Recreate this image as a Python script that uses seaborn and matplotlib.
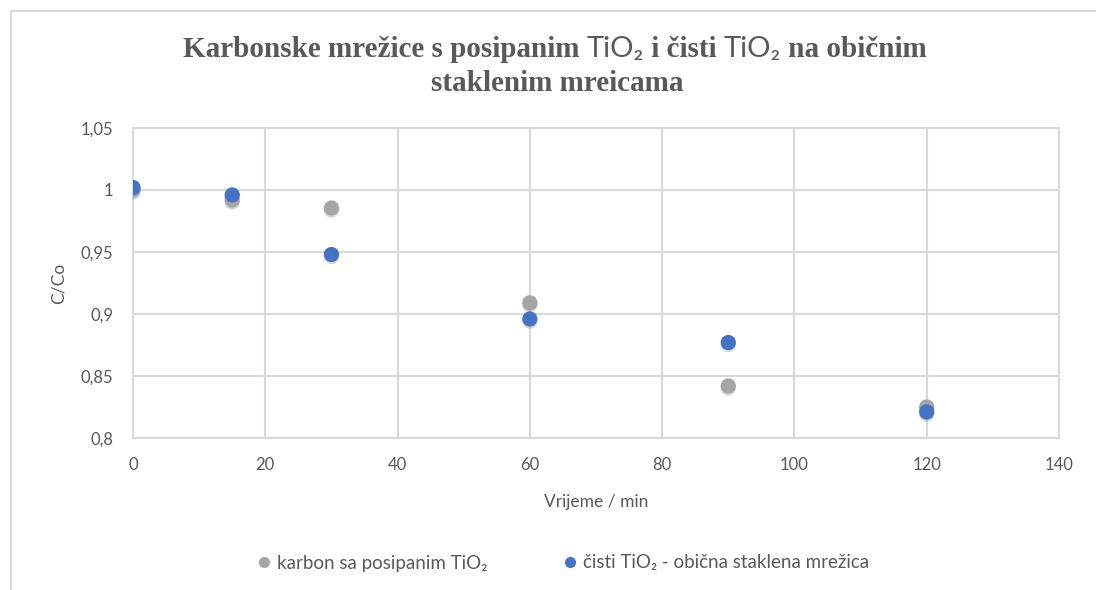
import numpy as np
import pandas as pd
import matplotlib
matplotlib.use("Agg")
import matplotlib.pyplot as plt
import matplotlib.patheffects as pe
from matplotlib.lines import Line2D
from matplotlib.font_manager import FontProperties
import seaborn as sns

# data
time_min = [0, 15, 30, 60, 90, 120]
karbon = [1.000, 0.992, 0.9855, 0.909, 0.842, 0.825]
cisti = [1.002, 0.996, 0.948, 0.896, 0.877, 0.821]
series_names = ["karbon sa posipanim TiO₂", "čisti TiO₂ - obična staklena mrežica"]
series_colors = ["#A5A5A5", "#4472C4"]
x_ticks = [0, 20, 40, 60, 80, 100, 120, 140]
y_ticks = [0.80, 0.85, 0.90, 0.95, 1.00, 1.05]
y_tick_labels = ["0,8", "0,85", "0,9", "0,95", "1", "1,05"]

df = pd.DataFrame({
    "Vrijeme": time_min * 2,
    "C/Co": karbon + cisti,
    "serija": [series_names[0]] * len(time_min) + [series_names[1]] * len(time_min),
})

sns.set_theme(style="white")
SANS = ["Lato", "DejaVu Sans"]
SERIF = ["Liberation Serif", "DejaVu Serif"]
TXT = "#595959"
GRID = "#D9D9D9"

W, H = 1096, 590
fig = plt.figure(figsize=(W / 100, H / 100), dpi=100)
ax = fig.add_axes([133 / W, 1 - 438 / H, (1059 - 133) / W, (438 - 128) / H])

shadow = [pe.SimplePatchShadow(offset=(0, -1.5), shadow_rgbFace="#888888", alpha=0.35), pe.Normal()]
sns.scatterplot(data=df, x="Vrijeme", y="C/Co", hue="serija", palette=series_colors,
                s=120, linewidth=0, legend=False, ax=ax, zorder=3)
for coll in ax.collections:
    coll.set_path_effects(shadow)

ax.set_xlim(0, 140)
ax.set_ylim(0.8, 1.05)
ax.set_xticks(x_ticks)
ax.set_xticklabels([str(v) for v in x_ticks])
ax.set_yticks(y_ticks)
ax.set_yticklabels(y_tick_labels)
ax.grid(True, color=GRID, linewidth=1.5)
ax.set_axisbelow(True)
for sp in ax.spines.values():
    sp.set_color(GRID)
    sp.set_linewidth(1.5)
ax.tick_params(length=0, labelsize=12, labelcolor=TXT, pad=14)
for lab in ax.get_xticklabels() + ax.get_yticklabels():
    lab.set_family(SANS)

ax.set_xlabel("Vrijeme / min", fontsize=12.5, color=TXT, family=SANS)
ax.set_ylabel("C/Co", fontsize=12.5, color=TXT, family=SANS)
ax.xaxis.set_label_coords(0.5, -0.18)
ax.yaxis.set_label_coords(-0.072, 0.5)

# title with mixed fonts (serif bold text, sans TiO2)
def rich_line(parts, cx, y):
    texts = []
    for s, fam, weight, sz in parts:
        texts.append(fig.text(0, y, s, family=fam, weight=weight, fontsize=sz,
                              color=TXT, va="baseline", ha="left"))
    fig.canvas.draw()
    r = fig.canvas.get_renderer()
    widths = [t.get_window_extent(r).width for t in texts]
    x = cx * W - sum(widths) / 2
    for t, w in zip(texts, widths):
        t.set_x(x / W)
        x += w

tsz = 21
rich_line([("Karbonske mrežice s posipanim ", SERIF, "bold", tsz),
           ("TiO₂", SANS, "normal", tsz),
           (" i čisti ", SERIF, "bold", tsz),
           ("TiO₂", SANS, "normal", tsz),
           (" na običnim", SERIF, "bold", tsz)], 555 / W, 1 - 57 / H)
rich_line([("staklenim mreicama", SERIF, "bold", tsz)], 557 / W, 1 - 91 / H)

handles = [Line2D([], [], marker="o", linestyle="", markersize=8,
                  markerfacecolor=c, markeredgewidth=0) for c in series_colors]
leg = fig.legend(handles, series_names, loc="center", bbox_to_anchor=(559 / W, 1 - 563 / H),
                 ncol=2, frameon=False, columnspacing=3.6, handletextpad=-0.1,
                 handlelength=1.6, prop=FontProperties(family=SANS, size=13.5))
for t in leg.get_texts():
    t.set_color(TXT)

# chart area border (cropped on right and bottom)
fig.add_artist(Line2D([11 / W, 11 / W], [0, 1 - 11 / H], color=GRID, linewidth=1.5))
fig.add_artist(Line2D([11 / W, 1], [1 - 11 / H, 1 - 11 / H], color=GRID, linewidth=1.5))

fig.savefig("out.png", dpi=100, facecolor="white")
